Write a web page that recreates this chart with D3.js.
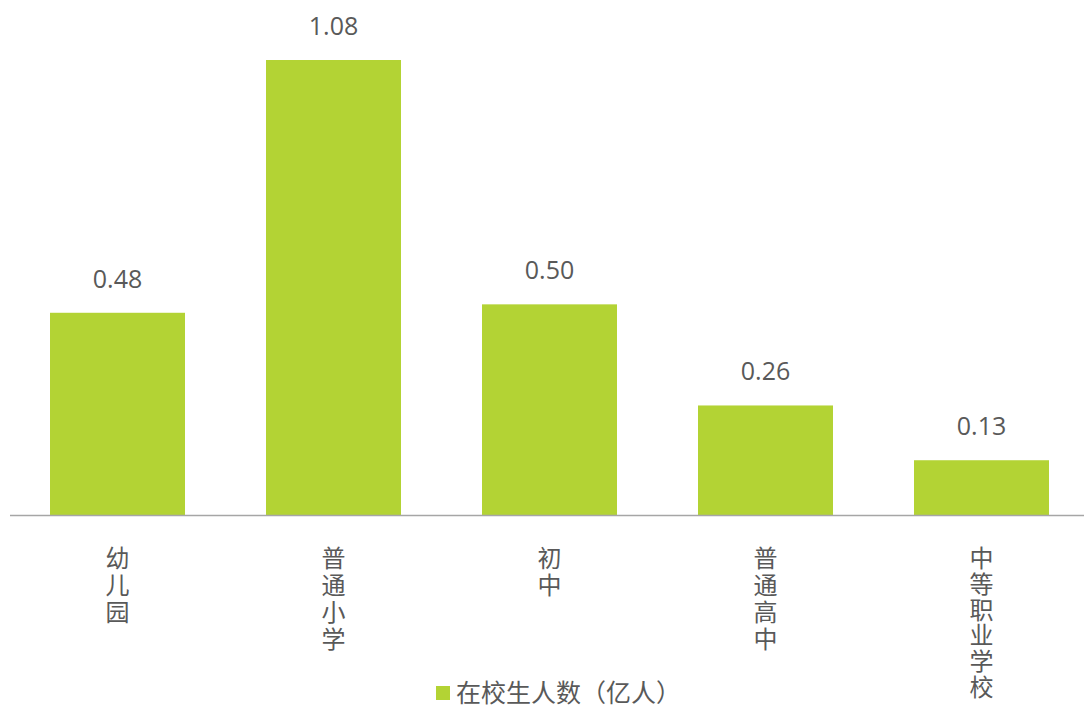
<!DOCTYPE html>
<html lang="zh">
<head>
    <meta charset="UTF-8">
    <title>在校生人数</title>
    <script src="https://d3js.org/d3.v7.min.js"></script>
    <style>
        body { margin: 0; background: #fff; }
        text { font-family: "Open Sans", "Noto Sans CJK SC", sans-serif; fill: #595959; }
    </style>
</head>
<body>
<div id="chart"></div>
<script>
    var categories = ["幼儿园", "普通小学", "初中", "普通高中", "中等职业学校"];
    var values = [0.48, 1.08, 0.50, 0.26, 0.13];
    var seriesName = "在校生人数（亿人）";

    var width = 1084, height = 707;
    var baseY = 515, topY = 60;

    var svg = d3.select("#chart")
        .append("svg")
        .attr("width", width)
        .attr("height", height);

    var x = d3.scaleBand()
        .domain(categories)
        .range([9.5, 1089.5])
        .paddingInner(0.375)
        .paddingOuter(0.1875);

    var y = d3.scaleLinear()
        .domain([0, 1.08])
        .range([baseY, topY]);

    svg.selectAll("rect.bar")
        .data(values)
        .enter()
        .append("rect")
        .attr("class", "bar")
        .attr("x", function(d, i) { return x(categories[i]); })
        .attr("y", function(d) { return y(d); })
        .attr("width", x.bandwidth())
        .attr("height", function(d) { return baseY - y(d); })
        .style("fill", "#b3d334");

    // axis line
    svg.append("line")
        .attr("x1", 10).attr("x2", width)
        .attr("y1", baseY + 0.5).attr("y2", baseY + 0.5)
        .style("stroke", "#a6a6a6")
        .style("stroke-width", 1.3);

    // value labels
    svg.selectAll("text.val")
        .data(values)
        .enter()
        .append("text")
        .attr("class", "val")
        .attr("x", function(d, i) { return x(categories[i]) + x.bandwidth() / 2; })
        .attr("y", function(d) { return y(d) - 25; })
        .attr("text-anchor", "middle")
        .attr("font-size", "25px")
        .text(function(d) { return d.toFixed(2); });

    // vertical category labels, one char per line (long one is a bit tighter)
    var cat = svg.selectAll("text.cat")
        .data(categories)
        .enter()
        .append("text")
        .attr("class", "cat")
        .attr("text-anchor", "middle")
        .attr("font-size", "24px")
        .style("font-family", "'Noto Sans CJK SC', sans-serif");

    cat.selectAll("tspan")
        .data(function(d) { return d.split("").map(function(c) { return {c: c, cat: d, n: d.length}; }); })
        .enter()
        .append("tspan")
        .attr("x", function(d) { return x(d.cat) + x.bandwidth() / 2; })
        .attr("y", function(d, i) { return baseY + 52 + i * (d.n > 4 ? 25.8 : 27); })
        .text(function(d) { return d.c; });

    // legend
    var legend = svg.append("g").attr("transform", "translate(436,686)");
    legend.append("rect")
        .attr("width", 14).attr("height", 14)
        .style("fill", "#b3d334");
    legend.append("text")
        .attr("x", 20).attr("y", 16)
        .attr("font-size", "25px")
        .style("font-family", "'Noto Sans CJK SC', sans-serif")
        .text(seriesName);
</script>
</body>
</html>
